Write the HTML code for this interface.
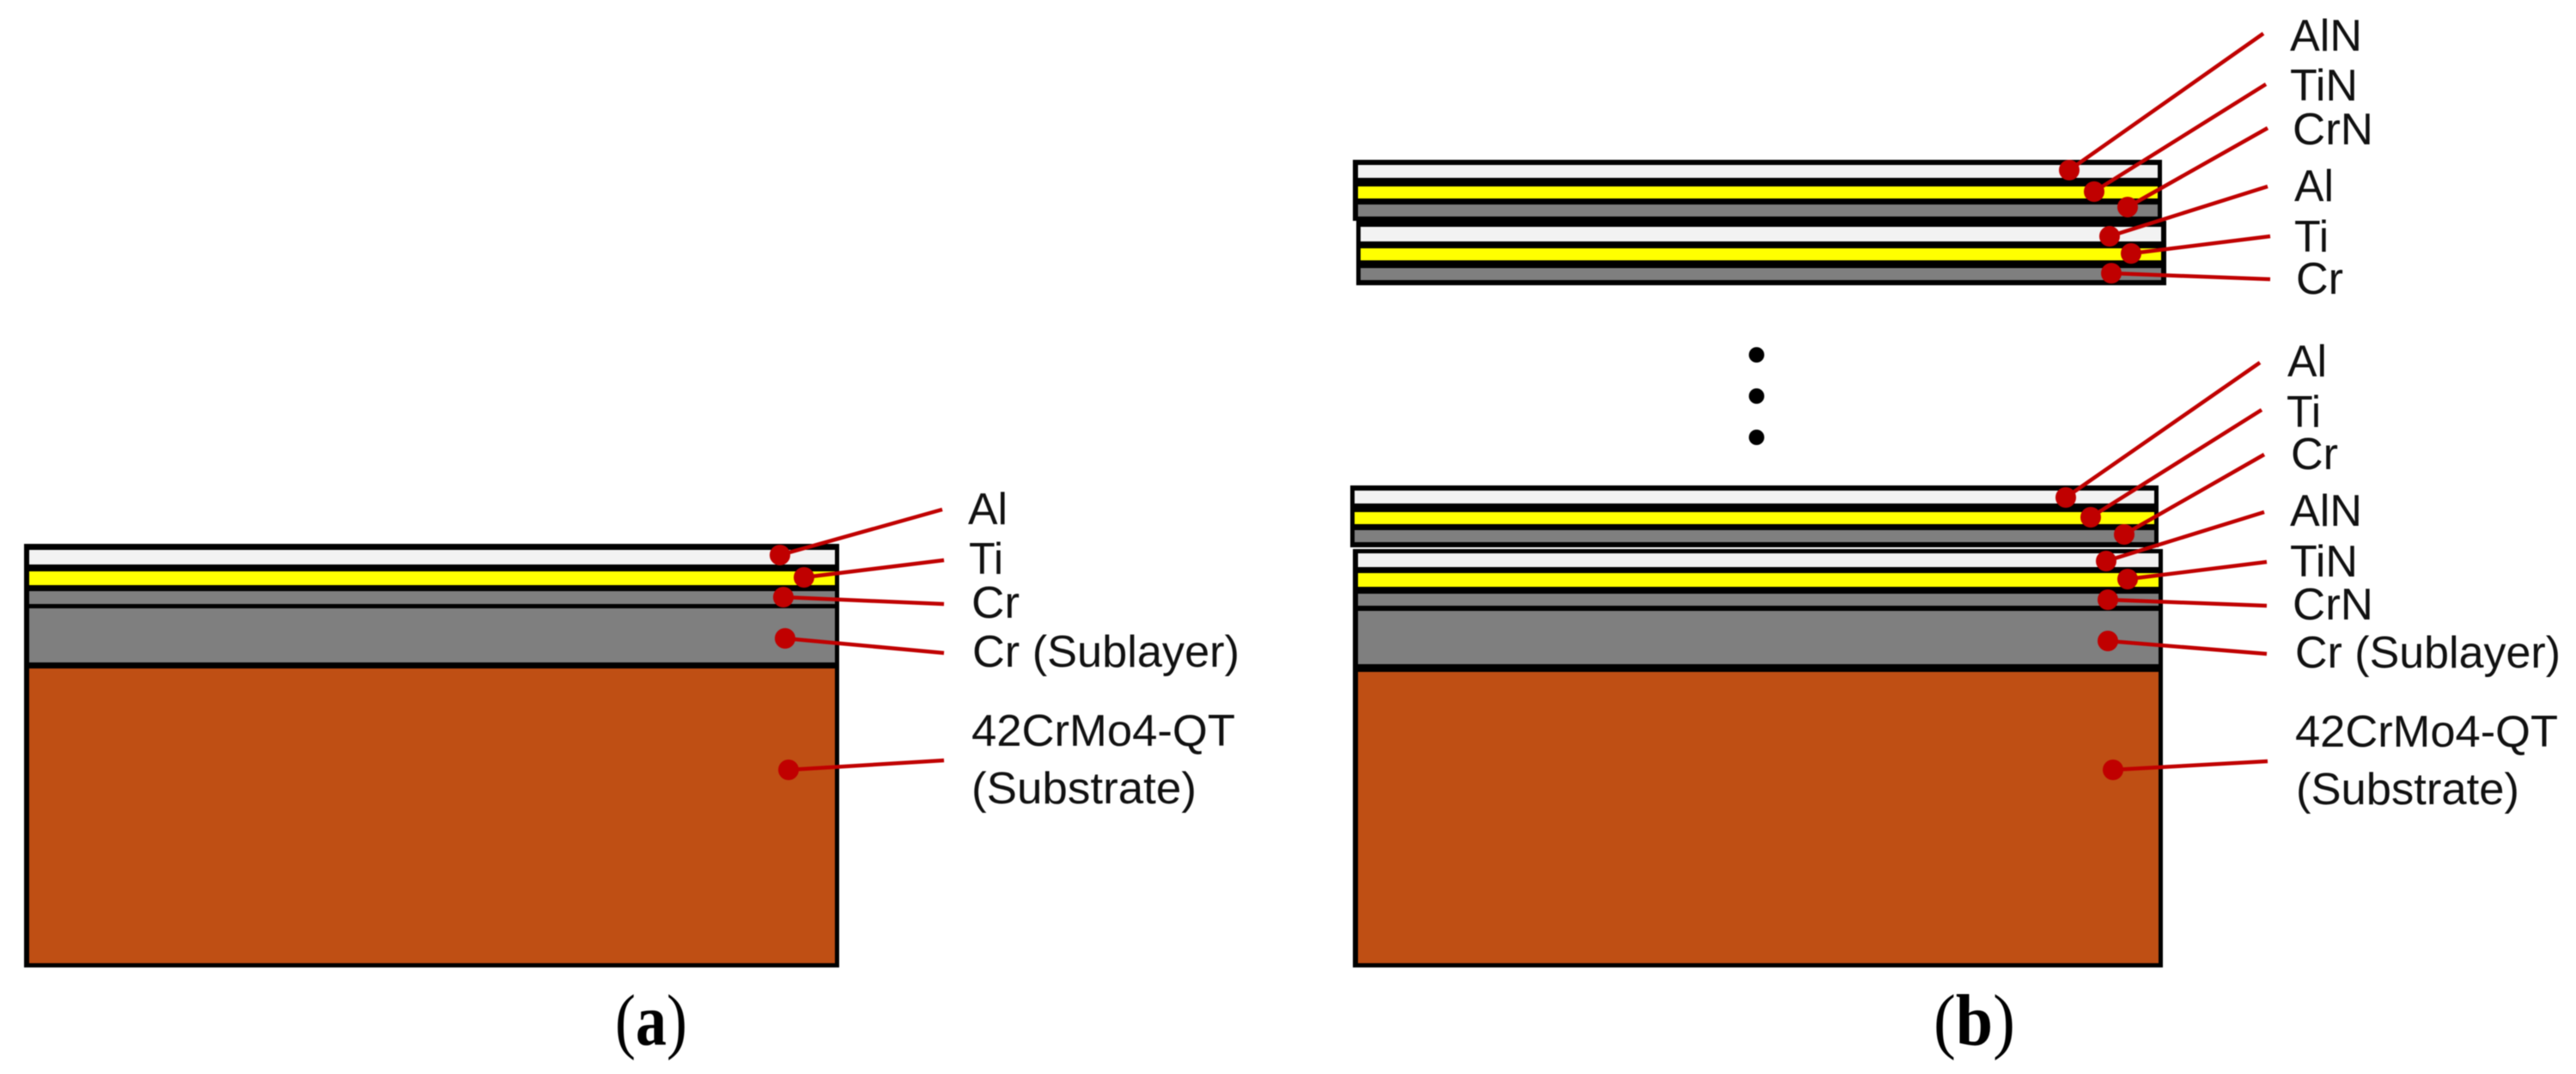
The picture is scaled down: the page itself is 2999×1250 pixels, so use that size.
<!DOCTYPE html>
<html><head><meta charset="utf-8"><style>
html,body{margin:0;padding:0;background:#fff}
svg{display:block;filter:blur(.6px)}
.t{font-family:"Liberation Sans",sans-serif;font-size:52px;fill:#111}
.c{font-family:"Liberation Serif",serif;font-size:85px;fill:#000}
.w{fill:#f2f2f2}.y{fill:#ff0}.g{fill:#7f7f7f}.o{fill:#bf4f14}
line{stroke:#c00000;stroke-width:4.5}
.d{fill:#c00000}
</style></head><body>
<svg xmlns="http://www.w3.org/2000/svg" width="2999" height="1250" viewBox="0 0 2999 1250">
<rect width="2999" height="1250" fill="#fff"/>
<!-- panel a -->
<rect x="28" y="633" width="949" height="493" fill="#000"/>
<rect class="w" x="34" y="640" width="938" height="17"/>
<rect class="y" x="34" y="665" width="938" height="16"/>
<rect class="g" x="34" y="688" width="938" height="15"/>
<rect class="g" x="34" y="708" width="938" height="63"/>
<rect class="o" x="34" y="778" width="938" height="343"/>
<!-- panel b stacks -->
<rect x="1575" y="186" width="942" height="71" fill="#000"/>
<rect x="1579" y="257" width="943" height="75" fill="#000"/>
<rect class="w" x="1581" y="192" width="931" height="15"/>
<rect class="y" x="1581" y="217" width="931" height="14"/>
<rect class="g" x="1581" y="238" width="931" height="14"/>
<rect class="w" x="1584" y="264" width="932" height="17"/>
<rect class="y" x="1584" y="289" width="932" height="14"/>
<rect class="g" x="1584" y="312" width="932" height="14"/>
<rect x="1572" y="565" width="941" height="72" fill="#000"/>
<rect class="w" x="1577" y="571" width="931" height="15"/>
<rect class="y" x="1577" y="596" width="931" height="14"/>
<rect class="g" x="1577" y="617" width="931" height="14"/>
<rect x="1575" y="639" width="943" height="487" fill="#000"/>
<rect class="w" x="1581" y="644" width="932" height="16"/>
<rect class="y" x="1581" y="667" width="932" height="16"/>
<rect class="g" x="1581" y="691" width="932" height="14"/>
<rect class="g" x="1581" y="711" width="932" height="62"/>
<rect class="o" x="1581" y="782" width="932" height="339"/>
<!-- leaders a -->
<line x1="908" y1="646" x2="1097" y2="593"/>
<line x1="936" y1="672" x2="1099" y2="652"/>
<line x1="912" y1="695" x2="1099" y2="703"/>
<line x1="914" y1="743" x2="1099" y2="760"/>
<line x1="918" y1="896" x2="1099" y2="885"/>
<!-- leaders b top -->
<line x1="2409" y1="198" x2="2635" y2="39"/>
<line x1="2438" y1="223" x2="2638" y2="98"/>
<line x1="2477" y1="241" x2="2640" y2="149"/>
<line x1="2456" y1="275" x2="2640" y2="217"/>
<line x1="2481" y1="295" x2="2643" y2="275"/>
<line x1="2458" y1="318" x2="2643" y2="325"/>
<!-- leaders b bottom -->
<line x1="2405" y1="579" x2="2631" y2="422"/>
<line x1="2434" y1="602" x2="2633" y2="477"/>
<line x1="2473" y1="622" x2="2636" y2="529"/>
<line x1="2452" y1="653" x2="2636" y2="596"/>
<line x1="2477" y1="674" x2="2639" y2="654"/>
<line x1="2454" y1="698" x2="2639" y2="705"/>
<line x1="2454" y1="746" x2="2639" y2="761"/>
<line x1="2460" y1="896" x2="2640" y2="886"/>
<!-- dots -->
<g class="d">
<circle cx="908" cy="646" r="12"/><circle cx="936" cy="672" r="12"/><circle cx="912" cy="695" r="12"/><circle cx="914" cy="743" r="12"/><circle cx="918" cy="896" r="12"/>
<circle cx="2409" cy="198" r="12"/><circle cx="2438" cy="223" r="12"/><circle cx="2477" cy="241" r="12"/><circle cx="2456" cy="275" r="12"/><circle cx="2481" cy="295" r="12"/><circle cx="2458" cy="318" r="12"/>
<circle cx="2405" cy="579" r="12"/><circle cx="2434" cy="602" r="12"/><circle cx="2473" cy="622" r="12"/><circle cx="2452" cy="653" r="12"/><circle cx="2477" cy="674" r="12"/><circle cx="2454" cy="698" r="12"/><circle cx="2454" cy="746" r="12"/><circle cx="2460" cy="896" r="12"/>
</g>
<circle cx="2045" cy="413" r="9"/><circle cx="2045" cy="461" r="9"/><circle cx="2045" cy="509" r="9"/>
<!-- labels -->
<g class="t">
<text x="1127" y="610" textLength="46" lengthAdjust="spacingAndGlyphs">Al</text>
<text x="1128" y="668" textLength="40" lengthAdjust="spacingAndGlyphs">Ti</text>
<text x="1131" y="719" textLength="56" lengthAdjust="spacingAndGlyphs">Cr</text>
<text x="1132" y="776" textLength="311" lengthAdjust="spacingAndGlyphs">Cr (Sublayer)</text>
<text x="1131" y="868" textLength="307" lengthAdjust="spacingAndGlyphs">42CrMo4-QT</text>
<text x="1131" y="935" textLength="262" lengthAdjust="spacingAndGlyphs">(Substrate)</text>
<text x="2666" y="59" textLength="84" lengthAdjust="spacingAndGlyphs">AlN</text>
<text x="2666" y="117" textLength="79" lengthAdjust="spacingAndGlyphs">TiN</text>
<text x="2669" y="168" textLength="94" lengthAdjust="spacingAndGlyphs">CrN</text>
<text x="2671" y="234" textLength="46" lengthAdjust="spacingAndGlyphs">Al</text>
<text x="2671" y="293" textLength="40" lengthAdjust="spacingAndGlyphs">Ti</text>
<text x="2673" y="342" textLength="55" lengthAdjust="spacingAndGlyphs">Cr</text>
<text x="2663" y="438" textLength="46" lengthAdjust="spacingAndGlyphs">Al</text>
<text x="2662" y="497" textLength="40" lengthAdjust="spacingAndGlyphs">Ti</text>
<text x="2667" y="546" textLength="55" lengthAdjust="spacingAndGlyphs">Cr</text>
<text x="2666" y="612" textLength="84" lengthAdjust="spacingAndGlyphs">AlN</text>
<text x="2666" y="671" textLength="79" lengthAdjust="spacingAndGlyphs">TiN</text>
<text x="2669" y="721" textLength="94" lengthAdjust="spacingAndGlyphs">CrN</text>
<text x="2672" y="777" textLength="309" lengthAdjust="spacingAndGlyphs">Cr (Sublayer)</text>
<text x="2672" y="869" textLength="306" lengthAdjust="spacingAndGlyphs">42CrMo4-QT</text>
<text x="2673" y="936" textLength="260" lengthAdjust="spacingAndGlyphs">(Substrate)</text>
</g>
<text class="c" x="716" y="1216" textLength="84" lengthAdjust="spacingAndGlyphs">(<tspan font-weight="bold">a</tspan>)</text>
<text class="c" x="2251" y="1216" textLength="95" lengthAdjust="spacingAndGlyphs">(<tspan font-weight="bold">b</tspan>)</text>
</svg>
</body></html>
